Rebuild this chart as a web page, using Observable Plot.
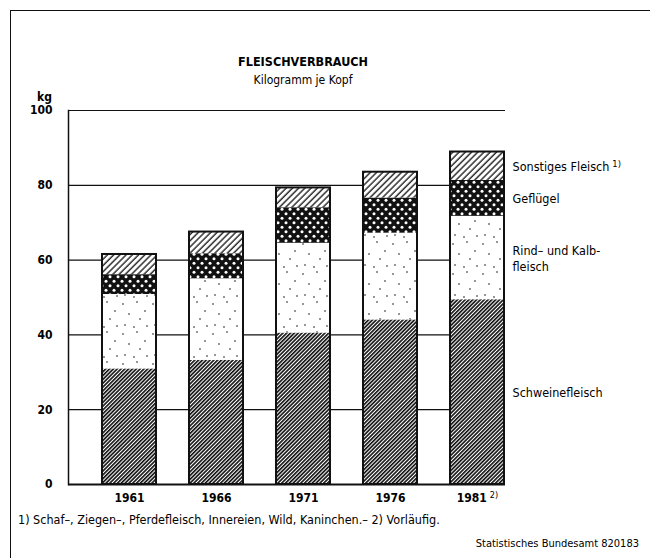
<!DOCTYPE html>
<html>
<head>
<meta charset="utf-8">
<script src="https://cdn.jsdelivr.net/npm/d3@7"></script>
<script src="https://cdn.jsdelivr.net/npm/@observablehq/plot@0.6"></script>
<style>
  html, body { margin: 0; padding: 0; background: #fff; }
  #page { position: relative; width: 650px; height: 558px; overflow: hidden; background: #fff;
          font-family: "Liberation Sans Narrow", "DejaVu Sans Condensed", "Liberation Sans", sans-serif; color: #000; }
  #border { position: absolute; left: 10px; top: 10px; width: 700px; height: 600px;
            border-left: 1.5px solid #111; border-top: 1.5px solid #111; }
  .t { position: absolute; white-space: nowrap; }
  #title { left: 0; width: 606px; text-align: center; top: 54px; font-weight: bold; font-size: 12.5px; }
  #subtitle { left: 0; width: 606px; text-align: center; top: 73px; font-size: 12px; }
  #kg { left: 37px; top: 90px; font-size: 12px; font-weight: bold; }
  #foot { left: 18px; top: 512px; font-size: 12.5px; }
  #src { right: 11px; top: 537px; font-size: 11px; }
  #chart { position: absolute; left: 0; top: 0; }
  #chart g[aria-label="y-axis tick label"] text, #chart g[aria-label="x-axis tick label"] text { font-weight: bold; }
</style>
</head>
<body>
<div id="page">
  <div id="chart"></div>
  <div id="border"></div>
  <div class="t" id="title">FLEISCHVERBRAUCH</div>
  <div class="t" id="subtitle">Kilogramm je Kopf</div>
  <div class="t" id="kg">kg</div>
  <div class="t" id="foot">1) Schaf–, Ziegen–, Pferdefleisch, Innereien, Wild, Kaninchen.– 2) Vorläufig.</div>
  <div class="t" id="src">Statistisches Bundesamt 820183</div>
</div>
<script>
const years = ["1961", "1966", "1971", "1976", "1981"];
const kinds = ["Schweinefleisch", "Rind- und Kalbfleisch", "Geflügel", "Sonstiges Fleisch"];
const schwein   = [30.9, 33.2, 40.5, 44.0, 49.4];
const rind      = [19.9, 21.8, 24.0, 23.2, 22.3];
const gefluegel = [5.3, 6.7, 9.5, 9.4, 9.6];
const sonstiges = [5.4, 5.8, 5.3, 6.9, 7.6];
const kindLabels = ["Schweinefleisch", "Rind– und Kalb-\nfleisch", "Geflügel", "Sonstiges Fleisch¹⁾"];
const yTicks = [0, 20, 40, 60, 80, 100];
const patternIds = ["p-schwein", "p-rind", "p-gefl", "p-sonst"];

const series = [schwein, rind, gefluegel, sonstiges];
const data = [];
years.forEach((year, i) => {
  kinds.forEach((kind, k) => data.push({year, kind, value: series[k][i], label: kindLabels[k]}));
});

const chart = Plot.plot({
  width: 650,
  height: 558,
  marginTop: 110,
  marginBottom: 74,
  marginLeft: 68,
  marginRight: 145,
  style: {fontFamily: '"Liberation Sans Narrow", "DejaVu Sans Condensed", sans-serif', fontSize: "12px", color: "#000", background: "transparent"},
  x: {type: "band", domain: years, range: [85.5, 520.5], paddingInner: 0.38, paddingOuter: 0.19,
      tickSize: 0, tickPadding: 9, label: null,
      tickFormat: d => d === "1981" ? "1981²⁾" : d},
  y: {domain: [0, 100], ticks: yTicks, tickSize: 0, tickPadding: 16, label: null},
  color: {domain: kinds, range: patternIds.map(id => `url(#${id})`)},
  marks: [
    Plot.ruleY(yTicks.filter(t => t > 0), {stroke: "#111", strokeWidth: 1.2}),
    Plot.barY(data, {x: "year", y: "value", fill: "kind"}),
    Plot.barY(data, Plot.groupX({y: "sum"}, {x: "year", y: "value", fill: "none", stroke: "#111", strokeWidth: 2})),
    Plot.text(data, Plot.stackY({filter: d => d.year === "1981", x: "year", y: "value", z: "kind", text: "label",
      textAnchor: "start", dx: 35, fontSize: 12.5, lineHeight: 1.25})),
    Plot.frame({anchor: "left", stroke: "#111", strokeWidth: 1.5}),
    Plot.ruleY([0], {stroke: "#111", strokeWidth: 2})
  ]
});

// pattern definitions (fills)
const svg = d3.select(chart);
const defs = svg.insert("defs", ":first-child");

// Schweinefleisch: dense diagonal hatching
const ps = defs.append("pattern").attr("id", "p-schwein").attr("patternUnits", "userSpaceOnUse")
  .attr("width", 2.7).attr("height", 2.7).attr("patternTransform", "rotate(45)");
ps.append("rect").attr("width", 2.7).attr("height", 2.7).attr("fill", "#fff");
ps.append("line").attr("x1", 0.8).attr("y1", 0).attr("x2", 0.8).attr("y2", 2.7).attr("stroke", "#111").attr("stroke-width", 1.7);

// Sonstiges: sparse diagonal hatching
const po = defs.append("pattern").attr("id", "p-sonst").attr("patternUnits", "userSpaceOnUse")
  .attr("width", 4.4).attr("height", 4.4).attr("patternTransform", "rotate(45)");
po.append("rect").attr("width", 4.4).attr("height", 4.4).attr("fill", "#fff");
po.append("line").attr("x1", 1).attr("y1", 0).attr("x2", 1).attr("y2", 4.4).attr("stroke", "#111").attr("stroke-width", 1.3);

// Geflügel: black with staggered white dots
const pg = defs.append("pattern").attr("id", "p-gefl").attr("patternUnits", "userSpaceOnUse")
  .attr("width", 8).attr("height", 9);
pg.append("rect").attr("width", 8).attr("height", 9).attr("fill", "#111");
[[2, 2.2], [6, 6.7]].forEach(([cx, cy]) => pg.append("circle").attr("cx", cx).attr("cy", cy).attr("r", 1.5).attr("fill", "#fff"));

// Rind- und Kalbfleisch: white with sparse dots
const pr = defs.append("pattern").attr("id", "p-rind").attr("patternUnits", "userSpaceOnUse")
  .attr("width", 30).attr("height", 30);
pr.append("rect").attr("width", 30).attr("height", 30).attr("fill", "#fff");
[[3, 4], [17, 2], [25, 11], [9, 14], [20, 19], [5, 25], [14, 27], [27, 26]].forEach(([cx, cy]) =>
  pr.append("circle").attr("cx", cx).attr("cy", cy).attr("r", 0.8).attr("fill", "#111"));

// footnote markers as raised text
const marks = {"¹⁾": "1)", "²⁾": "2)"};
svg.selectAll("text").each(function() {
  if (this.querySelector("tspan")) return;
  const t = this.textContent;
  for (const [m, s] of Object.entries(marks)) {
    if (t.includes(m)) {
      this.textContent = t.replace(m, "");
      d3.select(this).append("tspan").attr("dx", 3).attr("dy", "-0.5em").attr("font-size", "0.75em").attr("font-weight", "normal").text(s);
    }
  }
});

document.getElementById("chart").appendChild(chart);
</script>
</body>
</html>
